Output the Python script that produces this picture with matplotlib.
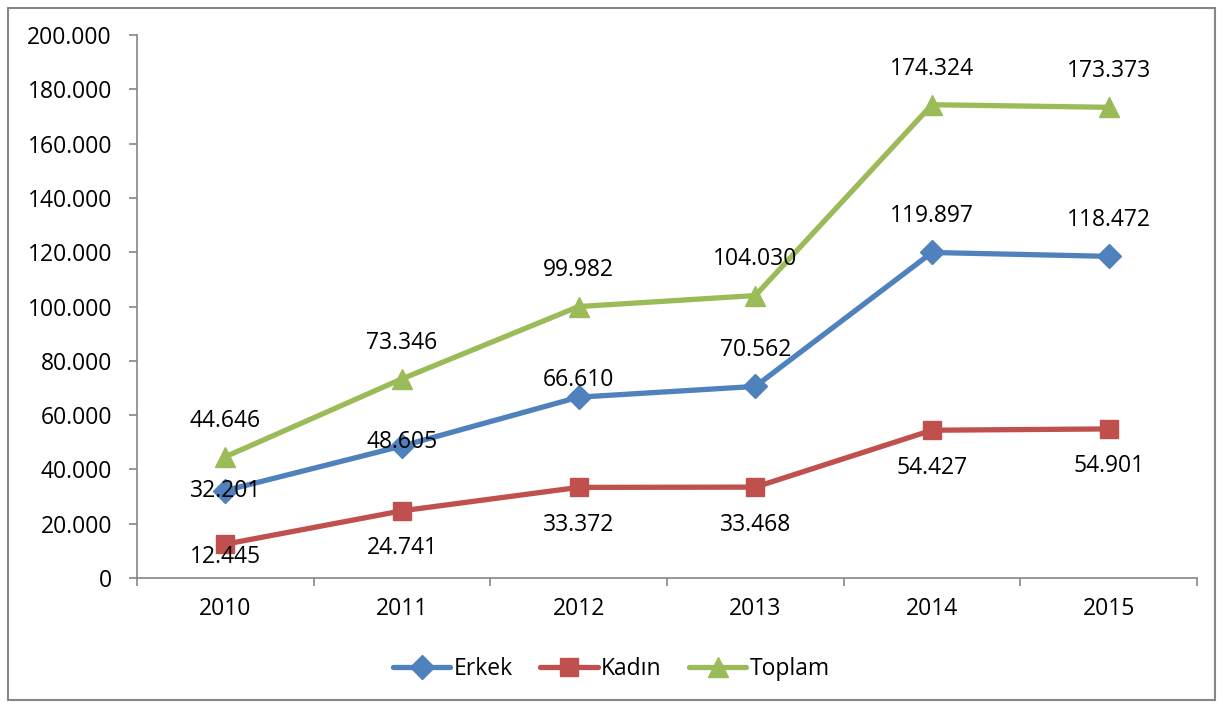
"""Erkek / Kadın / Toplam line chart, 2010-2015."""
import matplotlib.pyplot as plt
from matplotlib.patches import Rectangle
from matplotlib.ticker import FuncFormatter, FixedLocator
import numpy as np

years = ["2010", "2011", "2012", "2013", "2014", "2015"]
erkek = [32201, 48605, 66610, 70562, 119897, 118472]
kadin = [12445, 24741, 33372, 33468, 54427, 54901]
toplam = [44646, 73346, 99982, 104030, 174324, 173373]

# vertical label offsets (points) per point, as placed in the source chart
erkek_off = [0, 3, 12, 26, 26, 26]
kadin_off = [-9, -27, -27, -27, -27, -27]
toplam_off = [26, 26, 26, 26, 26, 26]

BLUE = "#4F81BD"
RED = "#C0504D"
GREEN = "#9BBB59"
GRAY = "#868686"
FS = 16.5


def tr_fmt(v, _pos):
    return f"{int(v):,}".replace(",", ".")


def main() -> None:
    plt.rcParams["font.family"] = ["Open Sans", "DejaVu Sans"]
    plt.rcParams["font.size"] = FS

    fig = plt.figure(figsize=(12.23, 7.09), dpi=100)
    ax = fig.add_axes([0.112, 0.1848, 0.8667, 0.7658])
    x = np.arange(len(years))

    series = [
        (erkek, BLUE, "D", 12, "Erkek", erkek_off),
        (kadin, RED, "s", 13, "Kadın", kadin_off),
        (toplam, GREEN, "^", 14, "Toplam", toplam_off),
    ]
    for vals, col, mk, ms, name, offs in series:
        ax.plot(x, vals, color=col, lw=3.8, marker=mk, markersize=ms,
                markeredgecolor=col, label=name, solid_capstyle="round")
        for xi, v, o in zip(x, vals, offs):
            ax.annotate(tr_fmt(v, None), (xi, v), xytext=(0, o),
                        textcoords="offset points", ha="center", va="center",
                        fontsize=FS, color="black")

    ax.set_xlim(-0.5, len(years) - 0.5)
    ax.set_ylim(0, 200000)
    ax.set_yticks(np.arange(0, 200001, 20000))
    ax.yaxis.set_major_formatter(FuncFormatter(tr_fmt))
    ax.set_xticks(x)
    ax.set_xticklabels(years)
    ax.xaxis.set_minor_locator(FixedLocator(np.arange(-0.5, len(years), 1.0)))
    ax.tick_params(axis="x", which="major", length=0, pad=14)
    ax.tick_params(axis="x", which="minor", length=6, color=GRAY, width=1.2)
    ax.tick_params(axis="y", length=6, color=GRAY, width=1.2, pad=12)

    for side in ("top", "right"):
        ax.spines[side].set_visible(False)
    for side in ("left", "bottom"):
        ax.spines[side].set_color(GRAY)
        ax.spines[side].set_linewidth(1.2)

    fig.legend(loc="center", bbox_to_anchor=(0.5, 0.057), ncol=3, frameon=False,
               handlelength=2.5, columnspacing=1.2, handletextpad=0.15,
               fontsize=FS)

    fig.patches.append(Rectangle((8 / 1223, 9 / 709), 1207 / 1223, 692 / 709,
                                 transform=fig.transFigure, fill=False,
                                 edgecolor=GRAY, linewidth=1.5))

    fig.savefig("out.png", dpi=100)


if __name__ == "__main__":
    main()
